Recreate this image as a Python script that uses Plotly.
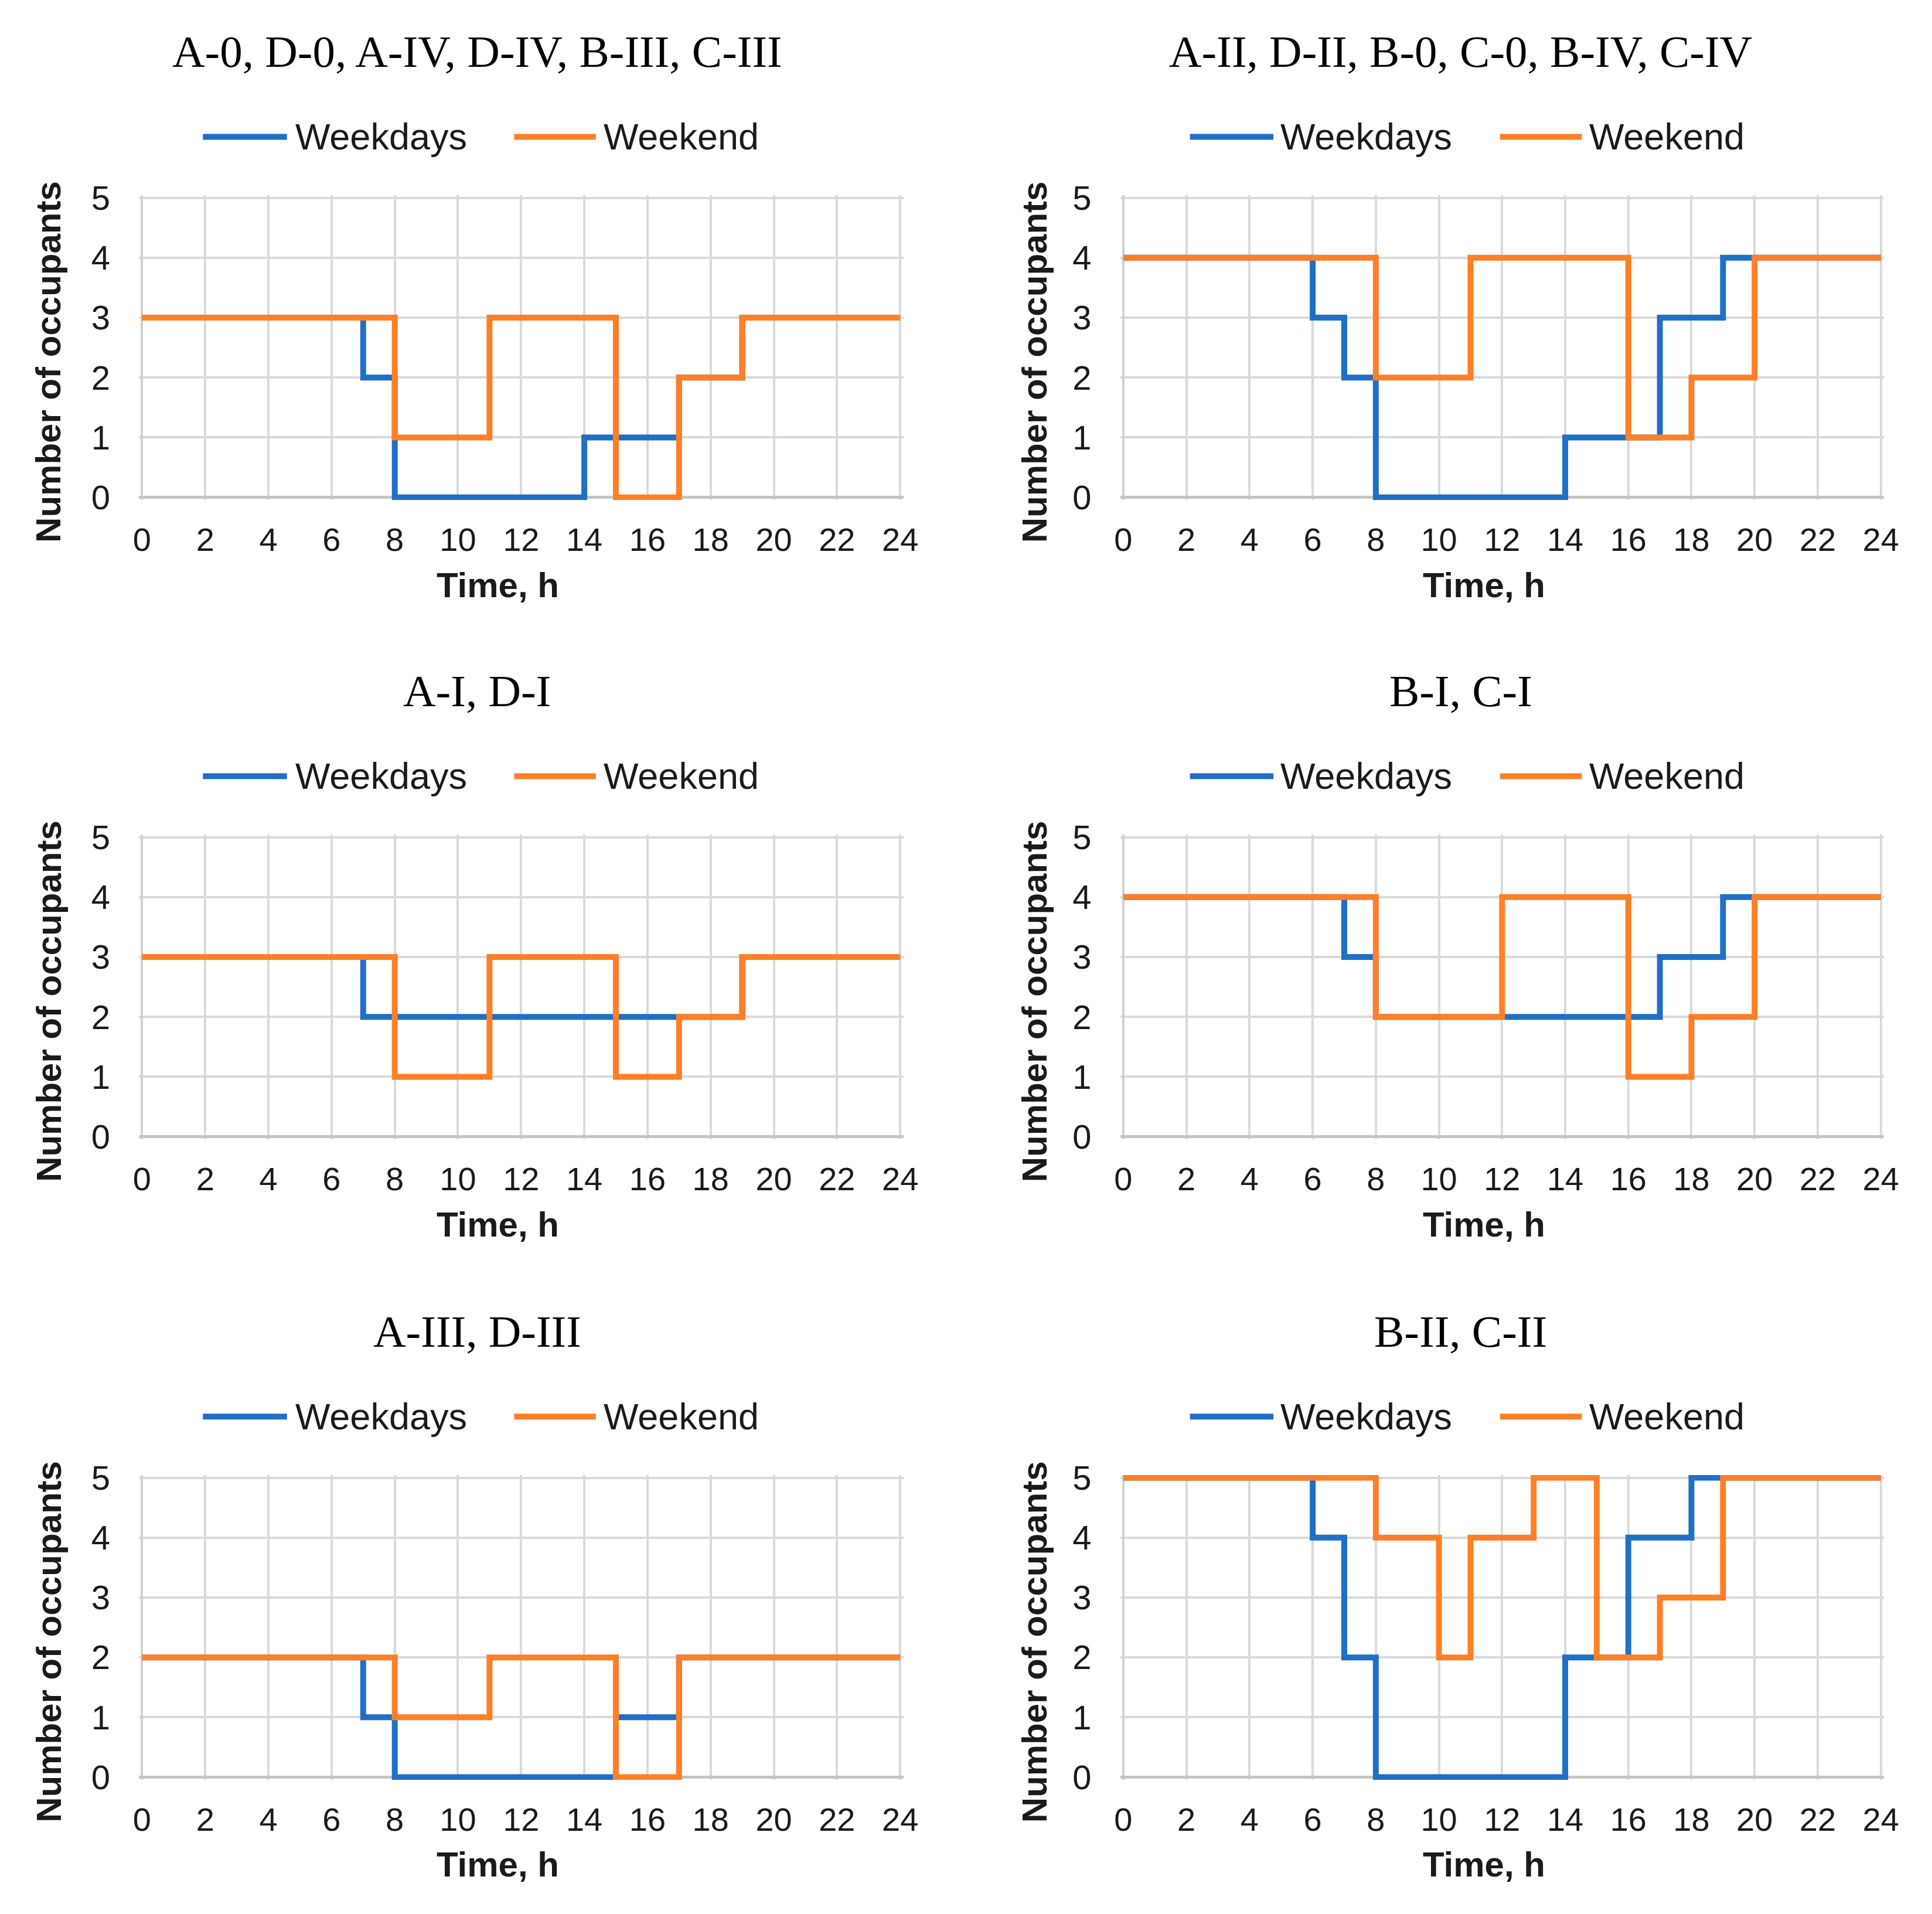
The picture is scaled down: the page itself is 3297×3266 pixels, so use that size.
import plotly.graph_objects as go

W, H = 3297, 3266

hours = list(range(25))
tick_x = list(range(0, 25, 2))
tick_y = list(range(0, 6))

titles = [
    "A-0, D-0, A-IV, D-IV, B-III, C-III",
    "A-II, D-II, B-0, C-0, B-IV, C-IV",
    "A-I, D-I",
    "B-I, C-I",
    "A-III, D-III",
    "B-II, C-II",
]
series_names = ["Weekdays", "Weekend"]
x_title = "Time, h"
y_title = "Number of occupants"

# hourly values (value for hour h..h+1)
p1_weekdays = [3, 3, 3, 3, 3, 3, 3, 2, 0, 0, 0, 0, 0, 0, 1, 1, 1, 2, 2, 3, 3, 3, 3, 3]
p1_weekend = [3, 3, 3, 3, 3, 3, 3, 3, 1, 1, 1, 3, 3, 3, 3, 0, 0, 2, 2, 3, 3, 3, 3, 3]
p2_weekdays = [4, 4, 4, 4, 4, 4, 3, 2, 0, 0, 0, 0, 0, 0, 1, 1, 1, 3, 3, 4, 4, 4, 4, 4]
p2_weekend = [4, 4, 4, 4, 4, 4, 4, 4, 2, 2, 2, 4, 4, 4, 4, 4, 1, 1, 2, 2, 4, 4, 4, 4]
p3_weekdays = [3, 3, 3, 3, 3, 3, 3, 2, 2, 2, 2, 2, 2, 2, 2, 2, 2, 2, 2, 3, 3, 3, 3, 3]
p3_weekend = [3, 3, 3, 3, 3, 3, 3, 3, 1, 1, 1, 3, 3, 3, 3, 1, 1, 2, 2, 3, 3, 3, 3, 3]
p4_weekdays = [4, 4, 4, 4, 4, 4, 4, 3, 2, 2, 2, 2, 2, 2, 2, 2, 2, 3, 3, 4, 4, 4, 4, 4]
p4_weekend = [4, 4, 4, 4, 4, 4, 4, 4, 2, 2, 2, 2, 4, 4, 4, 4, 1, 1, 2, 2, 4, 4, 4, 4]
p5_weekdays = [2, 2, 2, 2, 2, 2, 2, 1, 0, 0, 0, 0, 0, 0, 0, 1, 1, 2, 2, 2, 2, 2, 2, 2]
p5_weekend = [2, 2, 2, 2, 2, 2, 2, 2, 1, 1, 1, 2, 2, 2, 2, 0, 0, 2, 2, 2, 2, 2, 2, 2]
p6_weekdays = [5, 5, 5, 5, 5, 5, 4, 2, 0, 0, 0, 0, 0, 0, 2, 2, 4, 4, 5, 5, 5, 5, 5, 5]
p6_weekend = [5, 5, 5, 5, 5, 5, 5, 5, 4, 4, 2, 4, 4, 5, 5, 2, 2, 3, 3, 5, 5, 5, 5, 5]

panels = [
    (p1_weekdays, p1_weekend),
    (p2_weekdays, p2_weekend),
    (p3_weekdays, p3_weekend),
    (p4_weekdays, p4_weekend),
    (p5_weekdays, p5_weekend),
    (p6_weekdays, p6_weekend),
]

colors = ["#1F6FC6", "#FF7F27"]
LINE_W = 10
SANS = "Liberation Sans, Arial, sans-serif"
SERIF = "Liberation Serif, Times New Roman, serif"

# layout geometry in pixels
col_x = [(235, 1543), (1928, 3235)]   # plot left/right (x=0 .. x=24)
row_y = [(315, 835), (1425, 1945), (2537, 3057)]  # plot top/bottom (y=5 .. y=0)
XPAD, YPAD = 0.1, 0.045

title_cx = [813, 2510]
xtitle_cx = [849, 2550]
ytitle_cx = [74, 1775]
legend_pos = [  # (wd line start, wd line end, wd text, we line start, we line end, we text)
    (340, 485, 497, 877, 1018, 1029),
    (2043, 2187, 2197, 2578, 2719, 2730),
]


def px(xp):
    return xp / W


def py(yp):
    return 1 - yp / H


fig = go.Figure()
layout = dict(
    width=W, height=H,
    margin=dict(l=0, r=0, t=0, b=0),
    paper_bgcolor="white", plot_bgcolor="white",
    showlegend=False,
    font=dict(family=SANS, color="#1a1a1a"),
)
annotations = []
shapes = []

for i, (wd, we) in enumerate(panels):
    r, c = divmod(i, 2)
    n = i + 1
    xa = "x" if n == 1 else f"x{n}"
    ya = "y" if n == 1 else f"y{n}"
    xl, xr = col_x[c]
    yt, yb = row_y[r]
    ux = (xr - xl) / 24
    uy = (yb - yt) / 5
    dx0 = px(xl - XPAD * ux)
    dx1 = px(xr + XPAD * ux)
    dy0 = py(yb + YPAD * uy)
    dy1 = py(yt - YPAD * uy)

    for vals, name, col in zip((wd, we), series_names, colors):
        fig.add_trace(go.Scatter(
            x=hours, y=vals + [vals[-1]], mode="lines", name=name,
            line=dict(color=col, width=LINE_W, shape="hv"),
            xaxis=xa, yaxis=ya, showlegend=False, cliponaxis=False,
        ))

    xkey = "xaxis" if n == 1 else f"xaxis{n}"
    ykey = "yaxis" if n == 1 else f"yaxis{n}"
    layout[xkey] = dict(
        domain=[dx0, dx1], anchor=ya, range=[-XPAD, 24 + XPAD],
        tickmode="array", tickvals=tick_x, ticktext=[str(v) for v in tick_x],
        showgrid=True, gridcolor="#d9d9d9", gridwidth=4,
        zeroline=True, zerolinecolor="#d0d0d0", zerolinewidth=4,
        showline=False, ticks="", ticklabelstandoff=30,
        tickfont=dict(size=56, family=SANS, color="#1a1a1a"),
        fixedrange=True,
    )
    layout[ykey] = dict(
        domain=[dy0, dy1], anchor=xa, range=[-YPAD, 5 + YPAD],
        tickmode="array", tickvals=tick_y, ticktext=[str(v) for v in tick_y],
        showgrid=True, gridcolor="#d9d9d9", gridwidth=4,
        zeroline=True, zerolinecolor="#c4c4c4", zerolinewidth=5,
        showline=False, ticks="", ticklabelstandoff=48,
        tickfont=dict(size=58, family=SANS, color="#1a1a1a"),
        fixedrange=True,
    )

    # panel title
    annotations.append(dict(
        x=px(title_cx[c]), y=py(yt - 254), xref="paper", yref="paper",
        text=titles[i], showarrow=False, xanchor="center", yanchor="middle",
        font=dict(family=SERIF, size=77, color="black"),
    ))
    # axis titles
    annotations.append(dict(
        x=px(xtitle_cx[c]), y=py(yb + 152), xref="paper", yref="paper",
        text=f"<b>{x_title}</b>", showarrow=False, xanchor="center", yanchor="middle",
        font=dict(size=60, family=SANS, color="#1a1a1a"),
    ))
    annotations.append(dict(
        x=px(ytitle_cx[c]), y=py((yt + yb) / 2 + 25), xref="paper", yref="paper",
        text=f"<b>{y_title}</b>", showarrow=False, xanchor="center", yanchor="middle",
        textangle=-90, font=dict(size=60, family=SANS, color="#1a1a1a"),
    ))
    # legend
    lp = legend_pos[c]
    ly = py(yt - 106)
    for (ls, le, lt), name, col in zip(((lp[0], lp[1], lp[2]), (lp[3], lp[4], lp[5])), series_names, colors):
        shapes.append(dict(
            type="line", xref="paper", yref="paper",
            x0=px(ls), x1=px(le), y0=ly, y1=ly,
            line=dict(color=col, width=10),
        ))
        annotations.append(dict(
            x=px(lt), y=ly, xref="paper", yref="paper",
            text=name, showarrow=False, xanchor="left", yanchor="middle",
            font=dict(size=63, family=SANS, color="#1a1a1a"),
        ))

layout["annotations"] = annotations
layout["shapes"] = shapes
fig.update_layout(**layout)
fig.write_html(
    "out.html",
    config={"displayModeBar": False},
    post_script="document.body.style.margin='0';document.body.style.overflow='hidden';",
)
